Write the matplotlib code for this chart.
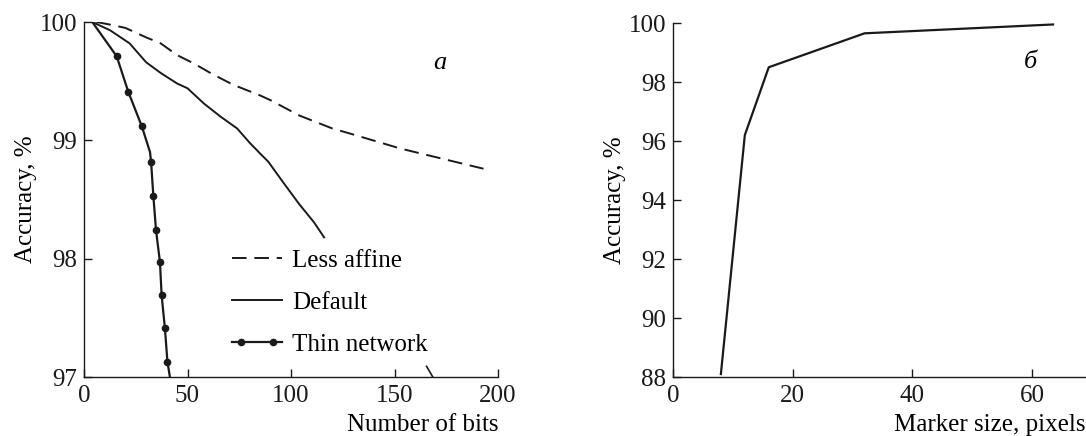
import matplotlib
matplotlib.use("Agg")
import matplotlib.pyplot as plt
from matplotlib.lines import Line2D
from matplotlib.legend_handler import HandlerLine2D, HandlerTuple

# panel a: accuracy vs number of bits
less_x = [6, 12, 20, 30, 37, 45, 53, 62, 72, 85, 90, 104, 120, 128, 153, 193]
less_y = [100.0, 99.98, 99.95, 99.87, 99.82, 99.72, 99.65, 99.56, 99.47, 99.38,
          99.34, 99.21, 99.10, 99.06, 98.93, 98.76]

default_x = [4, 12.6, 22, 30, 37, 45, 50, 58, 66, 74, 80, 85, 89, 96, 104, 111, 116]
default_y = [100.0, 99.93, 99.82, 99.66, 99.57, 99.48, 99.44, 99.31, 99.20, 99.10,
             98.98, 98.89, 98.82, 98.65, 98.46, 98.31, 98.18]

thin_x = [4, 15.8, 21.4, 27.9, 31.9, 32.4, 33.5, 34.8, 36.7, 37.5, 39.1, 40.3, 41.5]
thin_y = [100.0, 99.71, 99.41, 99.12, 98.90, 98.82, 98.53, 98.24, 97.97, 97.69,
          97.41, 97.13, 97.0]
thin_marked = [1, 2, 3, 5, 6, 7, 8, 9, 10, 11]

# stray stroke near the bottom of panel a
stray_x = [165.5, 168.5]
stray_y = [97.09, 97.0]

# panel b: accuracy vs marker size
marker_px = [8, 12, 16, 32, 63.5]
marker_acc = [88.1, 96.2, 98.5, 99.65, 99.95]

plt.rcParams["font.family"] = ["Liberation Serif", "DejaVu Serif"]
plt.rcParams["font.size"] = 18

ink = "#1a1a1a"
fig = plt.figure(figsize=(10.86, 4.36), dpi=100)
ax1 = fig.add_axes([84 / 1086, 1 - 377 / 436, 414 / 1086, 355 / 436])
ax2 = fig.add_axes([673 / 1086, 1 - 377 / 436, 413 / 1086, 354 / 436])

for ax in (ax1, ax2):
    ax.spines["top"].set_visible(False)
    ax.spines["right"].set_visible(False)
    for s in ("left", "bottom"):
        ax.spines[s].set_linewidth(1.0)
        ax.spines[s].set_color(ink)
    ax.tick_params(direction="in", length=6, width=1.0, colors=ink, labelsize=18)
    ax.tick_params(axis="x", pad=6)
    ax.tick_params(axis="y", pad=5)

lw = 1.4
ax1.plot(less_x, less_y, color=ink, lw=lw, dashes=(7.5, 4))
ax1.plot(default_x, default_y, color=ink, lw=lw)
ax1.plot(thin_x, thin_y, color=ink, lw=1.6, marker="o", ms=4.5,
         markevery=thin_marked)
ax1.plot(stray_x, stray_y, color=ink, lw=1.2)

ax1.set_xlim(0, 200)
ax1.set_ylim(97, 100)
ax1.set_xticks([0, 50, 100, 150, 200])
ax1.set_yticks([97, 98, 99, 100])
ax1.set_ylabel("Accuracy, %", labelpad=2)
ax1.set_xlabel("Number of bits", loc="right", labelpad=5)
ax1.text(0.86, 0.885, "a", transform=ax1.transAxes, style="italic",
         ha="center", va="center", fontsize=19)

# legend
h_less = Line2D([], [], color=ink, lw=lw, dashes=(7.5, 4))
h_def = Line2D([], [], color=ink, lw=lw)
h_thin_line = Line2D([], [], color=ink, lw=1.6)
h_thin_dots = Line2D([], [], color=ink, lw=0, marker="o", ms=4.5)
ax1.legend([h_less, h_def, (h_thin_line, h_thin_dots)],
           ["Less affine", "Default", "Thin network"],
           handler_map={h_thin_dots: HandlerLine2D(numpoints=2, marker_pad=0.35),
                        tuple: HandlerTuple(ndivide=1, pad=0)},
           frameon=False, loc="upper left", bbox_to_anchor=(0.357, 0.36),
           handlelength=2.0, handletextpad=0.4, labelspacing=0.78,
           borderaxespad=0, borderpad=0, fontsize=18)

ax2.plot(marker_px, marker_acc, color=ink, lw=1.6)
ax2.set_xlim(0, 69)
ax2.set_ylim(88, 100)
ax2.set_xticks([0, 20, 40, 60])
ax2.set_yticks([88, 90, 92, 94, 96, 98, 100])
ax2.set_ylabel("Accuracy, %", labelpad=2)
ax2.set_xlabel("Marker size, pixels", loc="right", labelpad=5)
ax2.text(59.8, 98.67, "б", style="italic", ha="center", va="center", fontsize=19)

fig.savefig("out.png", dpi=100)
